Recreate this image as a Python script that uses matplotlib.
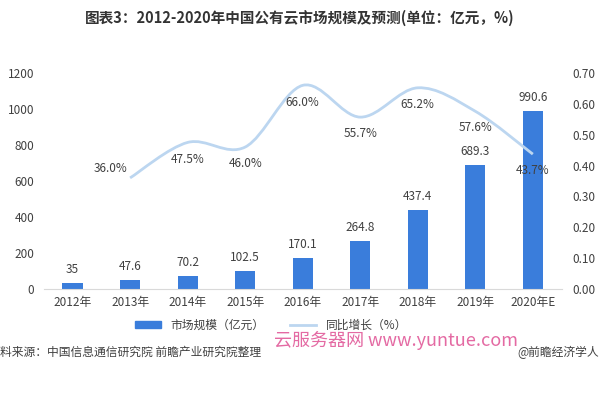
import matplotlib
matplotlib.use("Agg")
import matplotlib.pyplot as plt
from matplotlib.path import Path
from matplotlib.patches import PathPatch
from matplotlib.lines import Line2D
from matplotlib.patches import Patch

plt.rcParams['font.family'] = ['Noto Sans CJK SC', 'DejaVu Sans']

years = ["2012年", "2013年", "2014年", "2015年", "2016年", "2017年", "2018年", "2019年", "2020年E"]
market = [35, 47.6, 70.2, 102.5, 170.1, 264.8, 437.4, 689.3, 990.6]
market_labels = ["35", "47.6", "70.2", "102.5", "170.1", "264.8", "437.4", "689.3", "990.6"]
growth = [0.360, 0.475, 0.460, 0.660, 0.557, 0.652, 0.576, 0.437]  # 2013..2020
growth_labels = ["36.0%", "47.5%", "46.0%", "66.0%", "55.7%", "65.2%", "57.6%", "43.7%"]

bar_color = "#3A7DDB"
line_color = "#BCD6F0"
text_color = "#404040"

fig = plt.figure(figsize=(6, 4), dpi=100)
ax = fig.add_axes([0.073, 0.2775, 0.863, 0.54])
x = list(range(len(years)))
ax.bar(x, market, width=0.35, color=bar_color, zorder=2)
for xi, v, lab in zip(x, market, market_labels):
    ax.annotate(lab, (xi, v), xytext=(0, 5), textcoords="offset points",
                ha="center", va="bottom", fontsize=8.5, color=text_color)

ax.set_xlim(-0.5, 8.5)
ax.set_ylim(0, 1200)
ax.set_yticks(range(0, 1201, 200))
ax.set_xticks(x)
ax.set_xticklabels(years)
ax.tick_params(length=0, labelsize=8.5, labelcolor=text_color)
ax.tick_params(axis="y", pad=7)
ax.tick_params(axis="x", pad=5)
for s in ["top", "right", "left"]:
    ax.spines[s].set_visible(False)
ax.spines["bottom"].set_color("#D9D9D9")

ax2 = ax.twinx()
ax2.set_ylim(0, 0.70)
ax2.set_yticks([i / 10 for i in range(8)])
ax2.set_yticklabels(["%.2f" % (i / 10) for i in range(8)])
ax2.tick_params(length=0, labelsize=8.5, labelcolor=text_color, pad=8)
for s in ax2.spines.values():
    s.set_visible(False)

# smoothed line through the growth points (cubic Bezier segments)
gx = x[1:]
pts = list(zip(gx, growth))
verts = [pts[0]]
codes = [Path.MOVETO]
t = 1 / 6
for i in range(len(pts) - 1):
    p0 = pts[i - 1] if i > 0 else pts[i]
    p1 = pts[i]
    p2 = pts[i + 1]
    p3 = pts[i + 2] if i + 2 < len(pts) else pts[i + 1]
    c1 = (p1[0] + (p2[0] - p0[0]) * t, p1[1] + (p2[1] - p0[1]) * t)
    c2 = (p2[0] - (p3[0] - p1[0]) * t, p2[1] - (p3[1] - p1[1]) * t)
    verts += [c1, c2, p2]
    codes += [Path.CURVE4] * 3
ax2.add_patch(PathPatch(Path(verts, codes), facecolor="none",
                        edgecolor=line_color, lw=2, zorder=3))

for i, (xi, v, lab) in enumerate(zip(gx, growth, growth_labels)):
    if i == 0:
        ax2.annotate(lab, (xi, v), xytext=(-14, 7), textcoords="offset points",
                     ha="center", va="center", fontsize=8.5, color=text_color)
    else:
        ax2.annotate(lab, (xi, v), xytext=(0, -12), textcoords="offset points",
                     ha="center", va="center", fontsize=8.5, color=text_color)

fig.text(0.5, 0.955, "图表3：2012-2020年中国公有云市场规模及预测(单位：亿元，%)",
         ha="center", va="center", fontsize=10.5, fontweight="bold", color="#333333")

handles = [Patch(color=bar_color), Line2D([0], [0], color=line_color, lw=2)]
fig.legend(handles, ["市场规模（亿元）", "同比增长（%）"], loc="center",
           bbox_to_anchor=(0.452, 0.187), ncol=2, frameon=False, fontsize=8.5,
           handlelength=2.2, handleheight=0.6, columnspacing=2.2, labelcolor=text_color)

fig.text(0.0, 0.118, "料来源：中国信息通信研究院 前瞻产业研究院整理", ha="left", va="center",
         fontsize=8.5, color=text_color)
fig.text(0.457, 0.15, "云服务器网 www.yuntue.com", ha="left", va="center",
         fontsize=13, color="#E46AA3")
fig.text(0.998, 0.118, "@前瞻经济学人", ha="right", va="center",
         fontsize=8.5, color=text_color)

fig.savefig("out.png", dpi=100, facecolor="white")
